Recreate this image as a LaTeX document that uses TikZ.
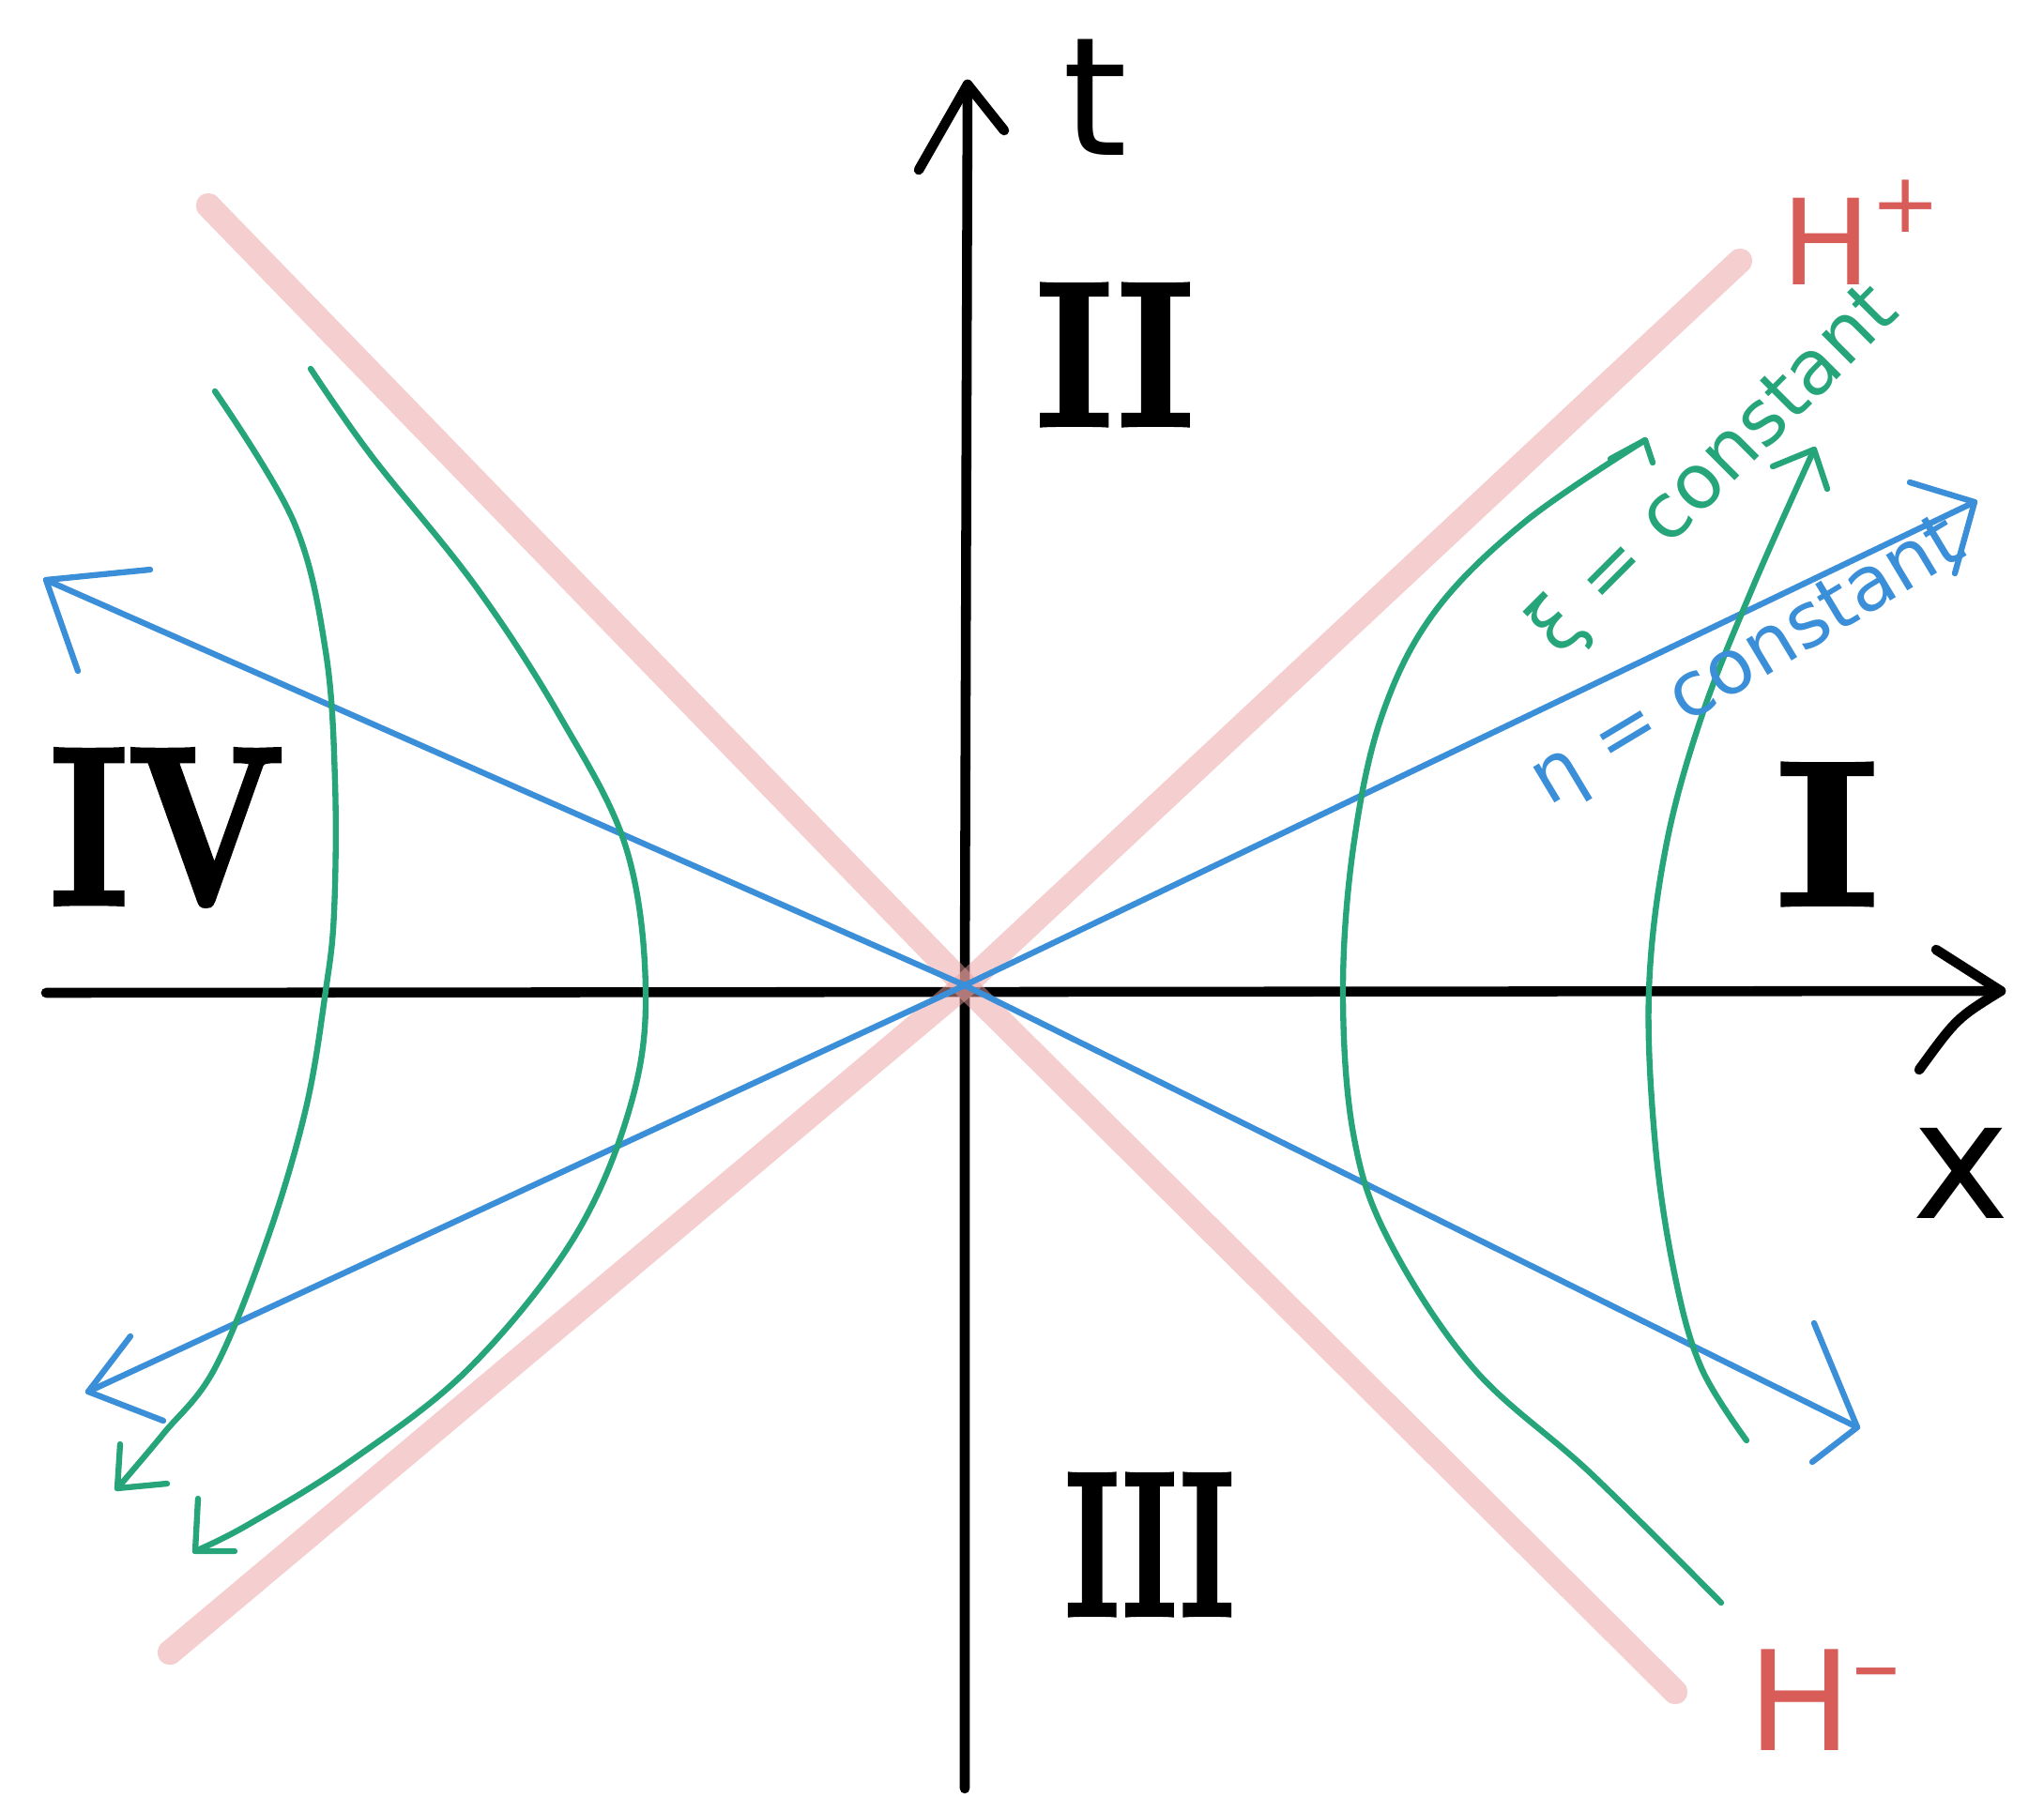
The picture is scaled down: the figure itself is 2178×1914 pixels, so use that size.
\documentclass[tikz,border=0pt]{standalone}
\usepackage{fontspec}
\newfontfamily\handfont{DejaVu Sans}
\newfontfamily\numfont{lmroman10-bold.otf}[FakeBold=2.5]
\definecolor{hpink}{RGB}{236,160,160}
\definecolor{hred}{RGB}{216,92,88}
\definecolor{bblue}{RGB}{58,143,216}
\definecolor{ggreen}{RGB}{38,165,122}
\tikzset{
  axisline/.style={line width=3pt, line cap=round, line join=round, black},
  horizon/.style={line width=7.5pt, line cap=round, line join=round, hpink, opacity=0.5},
  etaline/.style={line width=1.8pt, line cap=round, line join=round, bblue},
  xiline/.style={line width=1.8pt, line cap=round, line join=round, ggreen},
  region/.style={inner sep=0pt, font=\numfont\fontsize{62}{62}\selectfont},
  axlabel/.style={inner sep=0pt, font=\handfont\fontsize{50}{50}\selectfont},
  hlabel/.style={inner sep=0pt, text=hred, font=\handfont\fontsize{36}{36}\selectfont},
  curvelabel/.style={inner sep=0pt, font=\handfont\fontsize{23}{23}\selectfont},
}
\begin{document}
\begin{tikzpicture}[x=0.01cm,y=-0.01cm]
\useasboundingbox (0,0) rectangle (2178,1914);
\coordinate (O) at (1028,1050);

% ---- axes ----
\coordinate (tbot) at (1028,1906);
\coordinate (ttop) at (1031,90);
\coordinate (tarmL) at (979,181);
\coordinate (tarmR) at (1070,139);
\coordinate (xl) at (49,1058);
\coordinate (xr) at (2132,1056);
\coordinate (xarmU) at (2063,1012);
\coordinate (xarmD) at (2045,1140);
\draw[axisline] (tbot) -- (O) -- (ttop);
\draw[axisline] (tarmL) -- (ttop) -- (tarmR);
\draw[axisline] (xl) -- (xr);
\draw[axisline] (xarmU) -- (xr) .. controls (2085,1085) .. (xarmD);

% ---- horizons ----
\coordinate (hpA) at (181,1761);
\coordinate (hpB) at (1854,278);
\coordinate (hmA) at (222,219);
\coordinate (hmB) at (1785,1803);
\draw[horizon] (hpA) -- (O) -- (hpB);
\draw[horizon] (hmA) -- (O) -- (hmB);

% ---- eta = constant lines ----
\coordinate (eUL) at (49,618);
\coordinate (eLR) at (1979,1521);
\coordinate (eLL) at (94,1483);
\coordinate (eUR) at (2104,535);
\draw[etaline] (eUL) -- (O) -- (eLR);
\draw[etaline] (eLL) -- (O) -- (eUR);
\draw[etaline] (160,607) -- (eUL) -- (83,715);
\draw[etaline] (139,1424) -- (eLL) -- (174,1514);
\draw[etaline] (2035,514) -- (eUR) -- (2083,611);
\draw[etaline] (1933,1410) -- (eLR) -- (1931,1558);

% ---- xi = constant hyperbolas ----
\draw[xiline] plot[smooth, tension=0.6] coordinates {(229,417) (313,556) (347,694) (357,833) (356,972) (347,1056) (326,1181) (285,1320) (229,1458) (174,1528) (125,1586)};
\draw[xiline] (128,1539) -- (125,1586) -- (178,1581);
\draw[xiline] plot[smooth, tension=0.6] coordinates {(331,393) (396,486) (507,625) (597,764) (667,903) (688,1056) (671,1181) (611,1320) (500,1458) (375,1556) (264,1625) (208,1653)};
\draw[xiline] (211,1597) -- (208,1653) -- (250,1653);
\draw[xiline] plot[smooth, tension=0.6] coordinates {(1753,469) (1625,556) (1528,653) (1472,764) (1442,903) (1431,1056) (1442,1208) (1479,1320) (1570,1458) (1695,1570) (1834,1708)};
\draw[xiline] (1716,489) -- (1753,469) -- (1761,493);
\draw[xiline] plot[smooth, tension=0.6] coordinates {(1933,479) (1868,625) (1813,764) (1775,903) (1757,1056) (1764,1222) (1785,1361) (1813,1458) (1861,1535)};
\draw[xiline] (1889,497) -- (1933,479) -- (1947,521);

% ---- labels ----
\node[axlabel] (tl) at (1167,104) {t};
\node[axlabel] (xlab) at (2090,1250) {x};
\node[hlabel] (Hp) at (1984,248) {H\raisebox{0.35ex}{\textsuperscript{+}}};
\node[hlabel, font=\handfont\fontsize{42}{42}\selectfont] (Hm) at (1945,1812) {H\raisebox{0.3ex}{\textsuperscript{\textendash}}};
\node[region] (rII) at (1188,378) {\scalebox{0.85}[1]{II}};
\node[region] (rI) at (1947,889) {\scalebox{1.15}[1]{I}};
\node[region] (rIII) at (1225,1646) {\scalebox{0.6}[1]{III}};
\node[region, font=\numfont\fontsize{68}{68}\selectfont] (rIV) at (178,882) {\scalebox{0.8}[1]{IV}};
\node[curvelabel, text=ggreen, rotate=45] (xil) at (1828,502) {ξ = constant};
\node[curvelabel, text=bblue, rotate=31] (etal) at (1864,708) {η = constant};
\end{tikzpicture}
\end{document}
